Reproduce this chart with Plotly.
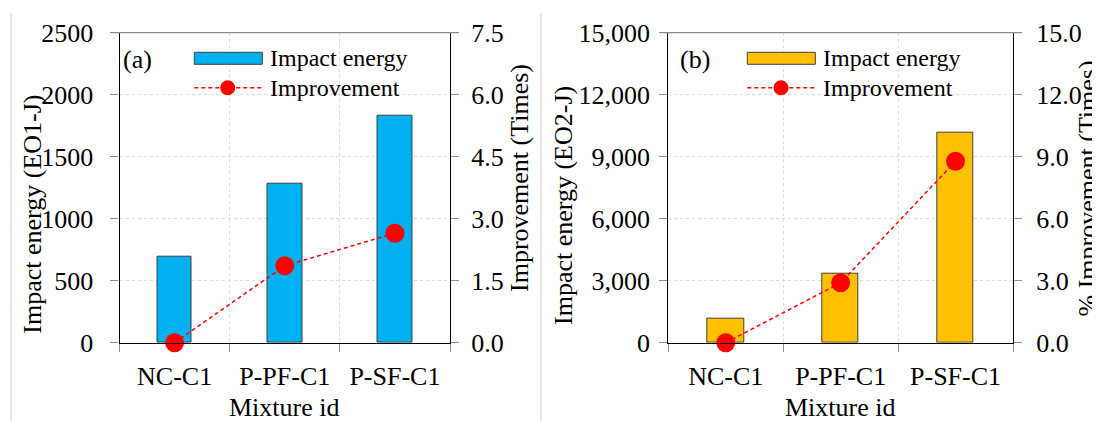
import plotly.graph_objects as go

# ---------------- data ----------------
mixtures = ["NC-C1", "P-PF-C1", "P-SF-C1"]
energy_eo1 = [691, 1282, 1833]
improve_eo1 = [0.0, 1.86, 2.65]
energy_eo2 = [1150, 3358, 10161]
improve_eo2 = [0.0, 2.90, 8.78]

y1_ticks = [0, 500, 1000, 1500, 2000, 2500]
y2_ticks = [0.0, 1.5, 3.0, 4.5, 6.0, 7.5]
y3_ticks = [0, 3000, 6000, 9000, 12000, 15000]
y4_ticks = [0.0, 3.0, 6.0, 9.0, 12.0, 15.0]

# ---------------- style ----------------
OFF = 8  # default page margin of the html body
W, H = 1100 - OFF, 421 - OFF
FONT = "Liberation Serif, Times New Roman, serif"
BLUE = "#00B0F0"
GOLD = "#FFC000"
RED = "#FF0000"
GRAY = "#8c8c8c"
GRID = "#dcdcdc"


def px(x):
    return (x - OFF) / W


def py(y):
    return 1 - (y - OFF) / H


L_X = [119.5, 450.0]
R_X = [668.3, 1013.0]
Y_TOP, Y_BOT = 32.7, 342.7
ydom = [py(Y_BOT), py(Y_TOP)]

fig = go.Figure()

# bars and lines
fig.add_trace(go.Bar(x=mixtures, y=energy_eo1, width=0.315, marker=dict(color=BLUE, line=dict(color="#404040", width=1)),
                     name="Impact energy", xaxis="x", yaxis="y", showlegend=False))
fig.add_trace(go.Scatter(x=mixtures, y=improve_eo1, mode="lines+markers",
                         line=dict(color=RED, width=1.5, dash="4px,3px"),
                         marker=dict(color=RED, size=19, symbol="circle"),
                         name="Improvement", xaxis="x", yaxis="y2", showlegend=False, cliponaxis=False))
fig.add_trace(go.Bar(x=mixtures, y=energy_eo2, width=0.315, marker=dict(color=GOLD, line=dict(color="#404040", width=1)),
                     name="Impact energy", xaxis="x2", yaxis="y3", showlegend=False))
fig.add_trace(go.Scatter(x=mixtures, y=improve_eo2, mode="lines+markers",
                         line=dict(color=RED, width=1.5, dash="4px,3px"),
                         marker=dict(color=RED, size=19, symbol="circle"),
                         name="Improvement", xaxis="x2", yaxis="y4", showlegend=False, cliponaxis=False))

tickfont = dict(family=FONT, size=26, color="black")

xcommon = dict(type="category", range=[-0.5, 2.5], tickson="boundaries", ticks="outside", ticklen=8,
               tickcolor=GRAY, tickwidth=1.3, showline=True, linecolor="black", linewidth=1.3,
               showgrid=True, gridcolor=GRID, griddash="dot", gridwidth=1, tickfont=tickfont,
               ticklabelstandoff=10, zeroline=False, fixedrange=True, automargin=False)
ycommon = dict(ticks="outside", ticklen=8, tickcolor=GRAY, tickwidth=1.3, showline=True, linecolor="black",
               linewidth=1.3, tickfont=tickfont, zeroline=False, fixedrange=True, automargin=False)

fig.update_layout(
    width=W, height=H, margin=dict(l=0, r=0, t=0, b=0, pad=0), autosize=False,
    paper_bgcolor="white", plot_bgcolor="white", bargap=0,
    font=dict(family=FONT, size=26, color="black"),
    xaxis=dict(domain=[px(L_X[0]), px(L_X[1])], anchor="y", **xcommon),
    yaxis=dict(domain=ydom, anchor="x", range=[0, 2500], tickvals=y1_ticks, showgrid=True, gridcolor=GRID,
               griddash="dot", ticklabelstandoff=12, **ycommon),
    yaxis2=dict(overlaying="y", side="right", anchor="x", range=[0, 7.5], tickvals=y2_ticks, tickformat=".1f",
                showgrid=False, ticklabelstandoff=7, **ycommon),
    xaxis2=dict(domain=[px(R_X[0]), px(R_X[1])], anchor="y3", **xcommon),
    yaxis3=dict(domain=ydom, anchor="x2", range=[0, 15000], tickvals=y3_ticks, tickformat=",", showgrid=True,
                gridcolor=GRID, griddash="dot", ticklabelstandoff=4, **ycommon),
    yaxis4=dict(overlaying="y3", side="right", anchor="x2", range=[0, 15], tickvals=y4_ticks, tickformat=".1f",
                showgrid=False, ticklabelstandoff=9, **ycommon),
)

shapes = []
annotations = []

# panel separators
for sx in (11, 541):
    shapes.append(dict(type="line", xref="paper", yref="paper", x0=px(sx), x1=px(sx), y0=py(13), y1=py(421),
                       line=dict(color="#e6e6e6", width=2), layer="below"))

# top borders (solid gray, spanning the tick marks)
for (xa, xb) in (L_X, R_X):
    shapes.append(dict(type="line", xref="paper", yref="paper", x0=px(xa - 8), x1=px(xb + 8), y0=py(Y_TOP),
                       y1=py(Y_TOP), line=dict(color=GRAY, width=1.3)))


def add_legend(xl, xm, xt, xlab, bar_color, lab):
    shapes.append(dict(type="rect", xref="paper", yref="paper", x0=px(xl), x1=px(xl + 68), y0=py(64.3), y1=py(52.3),
                       fillcolor=bar_color, line=dict(color="#404040", width=1)))
    shapes.append(dict(type="line", xref="paper", yref="paper", x0=px(xl), x1=px(xl + 68), y0=py(87.7), y1=py(87.7),
                       line=dict(color=RED, width=1.5, dash="4px,3px")))
    r = 7.5
    shapes.append(dict(type="circle", xref="paper", yref="paper", x0=px(xm - r), x1=px(xm + r), y0=py(87.7 + r),
                       y1=py(87.7 - r), fillcolor=RED, line=dict(color=RED, width=0)))
    annotations.append(dict(text="Impact energy", xref="paper", yref="paper", x=px(xt), y=py(58.3), xanchor="left",
                            yanchor="middle", showarrow=False, font=dict(family=FONT, size=24, color="black")))
    annotations.append(dict(text="Improvement", xref="paper", yref="paper", x=px(xt), y=py(87.7), xanchor="left",
                            yanchor="middle", showarrow=False, font=dict(family=FONT, size=24, color="black")))
    annotations.append(dict(text=lab, xref="paper", yref="paper", x=px(xlab), y=py(59.3), xanchor="left",
                            yanchor="middle", showarrow=False, font=dict(family=FONT, size=26, color="black")))


add_legend(194.3, 227.7, 268, 121, BLUE, "(a)")
add_legend(747.3, 781.0, 820.7, 678, GOLD, "(b)")

# axis titles
titles = [
    ("Impact energy (EO1-J)", 31.7, 214, -90),
    ("Improvement (Times)", 519, 178, -90),
    ("Impact energy (EO2-J)", 563, 206, -90),
    ("% Improvement (Times)", 1087, 188.5, -90),
    ("Mixture id", (L_X[0] + L_X[1]) / 2, 407, 0),
    ("Mixture id", (R_X[0] + R_X[1]) / 2, 407, 0),
]
for t, x, y, ang in titles:
    annotations.append(dict(text=t, xref="paper", yref="paper", x=px(x), y=py(y), xanchor="center",
                            yanchor="middle", textangle=ang, showarrow=False,
                            font=dict(family=FONT, size=26, color="black")))

fig.update_layout(shapes=shapes, annotations=annotations)

fig.write_html("out.html")
